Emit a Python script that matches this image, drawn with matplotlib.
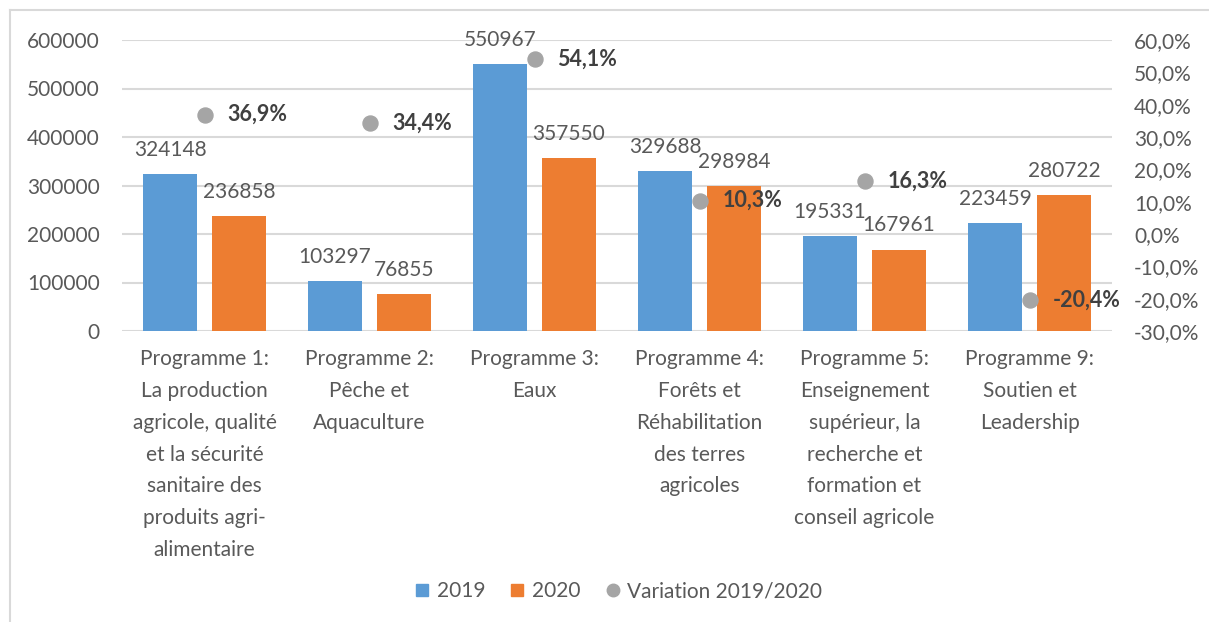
import matplotlib
matplotlib.use("Agg")
import matplotlib.pyplot as plt
from matplotlib.lines import Line2D
import numpy as np

plt.rcParams['font.family'] = ['Lato', 'DejaVu Sans']

categories = [
    "Programme 1:\nLa production\nagricole, qualité\net la sécurité\nsanitaire des\nproduits agri-\nalimentaire",
    "Programme 2:\nPêche et\nAquaculture",
    "Programme 3:\nEaux",
    "Programme 4:\nForêts et\nRéhabilitation\ndes terres\nagricoles",
    "Programme 5:\nEnseignement\nsupérieur, la\nrecherche et\nformation et\nconseil agricole",
    "Programme 9:\nSoutien et\nLeadership",
]
values_2019 = [324148, 103297, 550967, 329688, 195331, 223459]
values_2020 = [236858, 76855, 357550, 298984, 167961, 280722]
variation = [36.9, 34.4, 54.1, 10.3, 16.3, -20.4]
left_ticks = [0, 100000, 200000, 300000, 400000, 500000, 600000]
right_ticks = [-30, -20, -10, 0, 10, 20, 30, 40, 50, 60]

BLUE = "#5B9BD5"
ORANGE = "#ED7D31"
GRAY = "#A5A5A5"
TXT = "#595959"
DARK = "#404040"
GRID = "#D9D9D9"
FS = 15

W, H = 1209, 622
fig = plt.figure(figsize=(W / 100, H / 100), dpi=100)
ax = fig.add_axes([122 / W, 1 - 331 / H, (1112 - 122) / W, (331 - 40) / H])
ax2 = ax.twinx()

x = np.arange(len(categories))
bw = 0.333
off = 0.209
b1 = ax.bar(x - off, values_2019, bw, color=BLUE, zorder=2)
b2 = ax.bar(x + off, values_2020, bw, color=ORANGE, zorder=2)

for bars, vals in ((b1, values_2019), (b2, values_2020)):
    for rect, v in zip(bars, vals):
        ax.annotate(f"{v}", (rect.get_x() + rect.get_width() / 2, v),
                    xytext=(0, 13), textcoords="offset points",
                    ha="center", va="baseline", fontsize=FS, color=TXT, zorder=3)

ax.set_xlim(-0.5, len(categories) - 0.5)
ax.set_ylim(0, 600000)
ax.set_yticks(left_ticks)
ax.set_yticklabels([str(t) for t in left_ticks])
ax.grid(axis="y", color=GRID, linewidth=1.5, zorder=0)
ax.set_axisbelow(True)
ax.set_xticks(x)
ax.set_xticklabels(categories, fontsize=FS, color=TXT, linespacing=1.74, va="top")
ax.tick_params(axis="x", length=0, pad=13)
ax.tick_params(axis="y", length=0, pad=16, labelsize=FS, labelcolor=TXT)
for s in ax.spines.values():
    s.set_visible(False)

ax2.set_ylim(-30, 60)
ax2.set_yticks(right_ticks)
ax2.set_yticklabels([f"{t:.1f}%".replace(".", ",") for t in right_ticks])
ax2.tick_params(axis="y", length=0, pad=16, labelsize=FS, labelcolor=TXT)
for s in ax2.spines.values():
    s.set_visible(False)
ax2.plot(x, variation, linestyle="none", marker="o", markersize=10.8,
         color=GRAY, zorder=4)
for xi, v in zip(x, variation):
    ax2.annotate(f"{v:.1f}%".replace(".", ","), (xi, v), xytext=(16.5, 0),
                 textcoords="offset points", ha="left", va="center",
                 fontsize=15.5, fontweight="bold", color=DARK, zorder=5)

handles = [
    Line2D([], [], linestyle="none", marker="s", markersize=8, color=BLUE, label="2019"),
    Line2D([], [], linestyle="none", marker="s", markersize=8, color=ORANGE, label="2020"),
    Line2D([], [], linestyle="none", marker="o", markersize=9, color=GRAY, label="Variation 2019/2020"),
]
leg = fig.legend(handles=handles, loc="center", bbox_to_anchor=(618 / W, 1 - 591 / H),
                 ncol=3, frameon=False, fontsize=FS, handlelength=0.8,
                 handletextpad=0.3, columnspacing=1.15, labelcolor=TXT)

# outer chart frame (partially visible)
fig.add_artist(Line2D([9.5 / W, 9.5 / W], [0, 1 - 10 / H], color=GRID, linewidth=1.5))
fig.add_artist(Line2D([9.5 / W, 1], [1 - 10 / H, 1 - 10 / H], color=GRID, linewidth=1.5))

fig.savefig("out.png", dpi=100, facecolor="white")
